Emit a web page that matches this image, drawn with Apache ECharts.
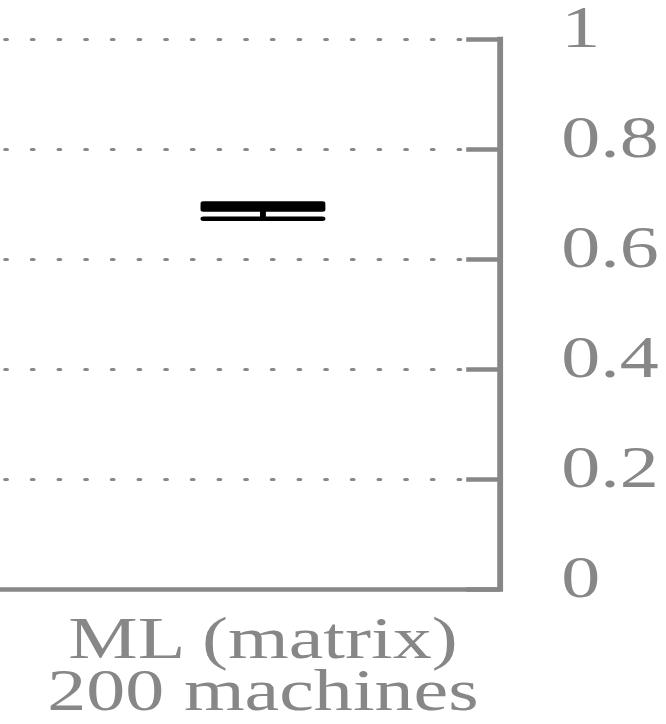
<!DOCTYPE html>
<html>
<head>
    <meta charset="utf-8">
    <script src="https://cdn.jsdelivr.net/npm/echarts@6/dist/echarts.min.js"></script>
</head>
<body style="margin: 0; overflow: hidden; background: #fff">
    <!-- the figure is stretched sideways, so draw it narrower and scale it out -->
    <div id="main" style="width: 512px; height: 724px; transform: scaleX(1.30078); transform-origin: 0 0"></div>
    <script type="text/javascript">
        // first slot is the neighbouring panel, cropped off the left edge
        var categories = ['', 'ML (matrix)\n200 machines'];
        // [min, Q1, median, Q3, max]
        var boxValues = ['-', [0.673, 0.690, 0.694, 0.698, 0.701]];
        var yTicks = [0, 0.2, 0.4, 0.6, 0.8, 1];

        var gray = '#878787';
        var font = '"Liberation Serif", "Times New Roman", Times, serif';

        var dom = document.getElementById('main');
        var myChart = echarts.init(dom, null, { renderer: 'svg' });

        var option = {
            animation: false,
            grid: {
                left: -344.6,
                right: 127.6,
                top: 39,
                bottom: 135,
                containLabel: false,
                outerBoundsMode: 'none'
            },
            xAxis: {
                type: 'category',
                data: categories,
                boundaryGap: true,
                axisLine: { lineStyle: { color: gray, width: 4.5, cap: 'square' } },
                axisTick: {
                    alignWithLabel: true,
                    inside: true,
                    length: 24,
                    lineStyle: { color: gray, width: 4.5, cap: 'round' }
                },
                axisLabel: {
                    interval: 0,
                    margin: 23,
                    color: gray,
                    fontFamily: font,
                    fontSize: 60,
                    lineHeight: 52
                },
                splitLine: { show: false }
            },
            yAxis: {
                type: 'value',
                position: 'right',
                min: yTicks[0],
                max: yTicks[yTicks.length - 1],
                interval: yTicks[1] - yTicks[0],
                axisLine: { show: true, lineStyle: { color: gray, width: 4.5, cap: 'square' } },
                axisTick: {
                    show: true,
                    inside: true,
                    length: 26,
                    lineStyle: { color: gray, width: 4.5 }
                },
                axisLabel: {
                    margin: 47,
                    color: gray,
                    fontFamily: font,
                    fontSize: 60,
                    verticalAlign: 'bottom',
                    lineHeight: 24
                },
                splitLine: {
                    show: true,
                    lineStyle: { color: gray, width: 3, type: [1.5, 19], cap: 'round' }
                }
            },
            series: [
                {
                    type: 'boxplot',
                    data: boxValues,
                    boxWidth: [91.5, 91.5],
                    itemStyle: {
                        color: '#000',
                        borderColor: '#000',
                        borderWidth: 4.5,
                        borderCap: 'round',
                        borderJoin: 'round'
                    },
                    z: 5
                }
            ]
        };

        myChart.setOption(option);
    </script>
</body>
</html>
